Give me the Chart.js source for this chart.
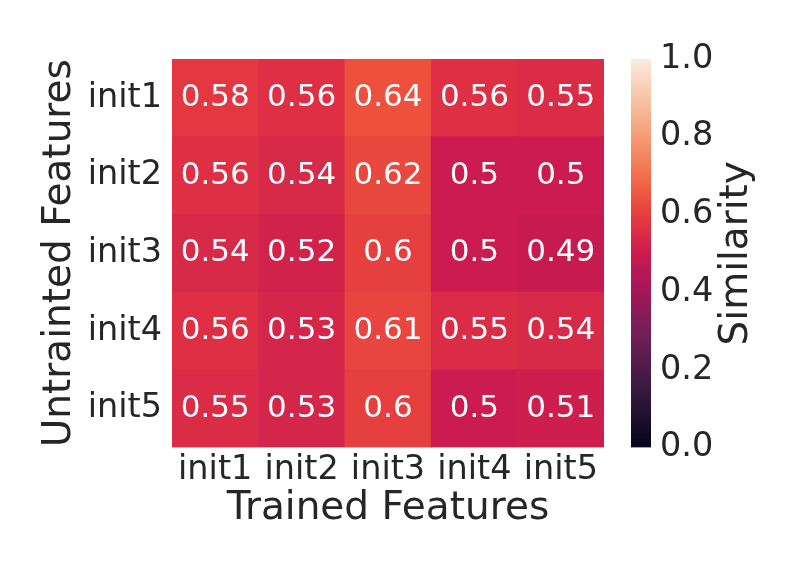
<!DOCTYPE html>
<html>
<head>
<meta charset="utf-8">
<script src="https://cdn.jsdelivr.net/npm/chart.js@4.4.0/dist/chart.umd.min.js"></script>
<style>
  body { margin: 0; background: #fff; }
  #wrap { position: relative; width: 792px; height: 576px; }
  #heat { position: absolute; left: 0; top: 0; width: 610px; height: 576px; }
  #bar { position: absolute; left: 610px; top: 0; width: 182px; height: 576px; }
</style>
</head>
<body>
<div id="wrap">
  <div id="heat"><canvas id="heatmap"></canvas></div>
  <div id="bar"><canvas id="colorbar"></canvas></div>
</div>
<script>
const colLabels = ['init1', 'init2', 'init3', 'init4', 'init5'];
const rowLabels = ['init1', 'init2', 'init3', 'init4', 'init5'];
const row1 = [0.58, 0.56, 0.64, 0.56, 0.55];
const row2 = [0.56, 0.54, 0.62, 0.5, 0.5];
const row3 = [0.54, 0.52, 0.6, 0.5, 0.49];
const row4 = [0.56, 0.53, 0.61, 0.55, 0.54];
const row5 = [0.55, 0.53, 0.6, 0.5, 0.51];
const rows = [row1, row2, row3, row4, row5];
const cbTicks = [0, 0.2, 0.4, 0.6, 0.8, 1.0];

// approx seaborn "rocket"
const rocket = [
    [0.0, [3, 5, 26]],
    [0.143, [53, 25, 62]],
    [0.286, [112, 31, 87]],
    [0.429, [173, 23, 89]],
    [0.5, [203, 27, 80]],
    [0.571, [225, 51, 66]],
    [0.643, [237, 82, 62]],
    [0.714, [243, 118, 81]],
    [0.857, [246, 180, 143]],
    [1.0, [250, 235, 221]]
];

function rocketColor(v) {
    v = Math.max(0, Math.min(1, v));
    for (let i = 1; i < rocket.length; i++) {
        const [p1, c1] = rocket[i];
        const [p0, c0] = rocket[i - 1];
        if (v <= p1) {
            const t = (v - p0) / (p1 - p0);
            const c = c0.map((a, k) => Math.round(a + (c1[k] - a) * t));
            return `rgb(${c[0]},${c[1]},${c[2]})`;
        }
    }
    return 'rgb(250,235,221)';
}

const FONT = 'DejaVu Sans';
const TXT = '#262626';

// bottom row first, since stacked bars grow upwards
const datasets = rows.slice().reverse().map((r) => ({
    data: r.map(() => 1),
    values: r,
    backgroundColor: r.map(rocketColor),
    borderWidth: 0,
    barPercentage: 1,
    categoryPercentage: 1
}));

const annotate = {
    id: 'annotate',
    afterDatasetsDraw(chart) {
        const c = chart.ctx;
        c.save();
        c.fillStyle = '#ffffff';
        c.font = `31px "${FONT}"`;
        c.textAlign = 'center';
        c.textBaseline = 'middle';
        chart.data.datasets.forEach((ds, i) => {
            chart.getDatasetMeta(i).data.forEach((el, j) => {
                c.fillText(String(ds.values[j]), el.x, (el.y + el.base) / 2);
            });
        });
        c.restore();
    }
};

new Chart(document.getElementById('heatmap'), {
    type: 'bar',
    data: { labels: colLabels, datasets: datasets },
    options: {
        responsive: true,
        maintainAspectRatio: false,
        animation: false,
        layout: { padding: { left: 30, top: 59, right: 6, bottom: 43.5 } },
        plugins: { legend: { display: false }, tooltip: { enabled: false } },
        scales: {
            x: {
                stacked: true,
                grid: { display: false, drawTicks: false, tickLength: 0 },
                border: { display: false },
                ticks: { color: TXT, font: { family: FONT, size: 33.5 }, padding: 3, maxRotation: 0 },
                title: { display: true, text: 'Trained Features', color: TXT,
                    font: { family: FONT, size: 39 }, padding: 0 },
                afterFit(s) { s.height = 85; }
            },
            y: {
                stacked: true,
                min: 0,
                max: 5,
                grid: { display: false, drawTicks: false, tickLength: 0 },
                border: { display: false },
                afterBuildTicks(s) {
                    s.ticks = [0.5, 1.5, 2.5, 3.5, 4.5].map(v => ({ value: v }));
                },
                ticks: {
                    color: TXT, font: { family: FONT, size: 33.5 }, padding: 10,
                    callback: (v) => rowLabels[4 - Math.floor(v)]
                },
                title: { display: true, text: 'Untrainted Features', color: TXT,
                    font: { family: FONT, size: 39 }, padding: { top: 6.5, bottom: 0 } },
                afterFit(s) { s.width = 142; }
            }
        }
    },
    plugins: [annotate]
});

const cbTitle = {
    id: 'cbTitle',
    afterDraw(chart) {
        const c = chart.ctx;
        const s = chart.scales.y;
        c.save();
        c.translate(127, (s.top + s.bottom) / 2);
        c.rotate(-Math.PI / 2);
        c.fillStyle = TXT;
        c.font = `39px "${FONT}"`;
        c.textAlign = 'center';
        c.textBaseline = 'middle';
        c.fillText('Similarity', 0, 0);
        c.restore();
    }
};

const cb = new Chart(document.getElementById('colorbar'), {
    type: 'bar',
    data: {
        labels: [''],
        datasets: [{
            data: [[0, 1]],
            borderWidth: 0,
            barPercentage: 1,
            categoryPercentage: 1,
            backgroundColor(ctx) {
                const s = ctx.chart.scales.y;
                const y0 = s ? s.getPixelForValue(0) : NaN;
                const y1 = s ? s.getPixelForValue(1) : NaN;
                if (!isFinite(y0) || !isFinite(y1) || y0 === y1) return rocketColor(0.5);
                const g = ctx.chart.ctx.createLinearGradient(0, y0, 0, y1);
                rocket.forEach(([p, c]) => g.addColorStop(p, `rgb(${c[0]},${c[1]},${c[2]})`));
                return g;
            }
        }]
    },
    options: {
        responsive: true,
        maintainAspectRatio: false,
        animation: false,
        layout: { padding: { left: 21, top: 59, right: 0, bottom: 128.5 } },
        plugins: { legend: { display: false }, tooltip: { enabled: false } },
        scales: {
            x: { display: false },
            y: {
                position: 'right',
                min: 0,
                max: 1,
                grid: { display: false, drawTicks: false, tickLength: 0 },
                border: { display: false },
                afterBuildTicks(s) {
                    s.ticks = cbTicks.map(v => ({ value: v }));
                },
                ticks: {
                    color: TXT, font: { family: FONT, size: 33.5 }, padding: 9,
                    callback: (v) => v.toFixed(1)
                },
                afterFit(s) { s.width = 141; }
            }
        }
    },
    plugins: [cbTitle]
});
cb.update();
</script>
</body>
</html>
